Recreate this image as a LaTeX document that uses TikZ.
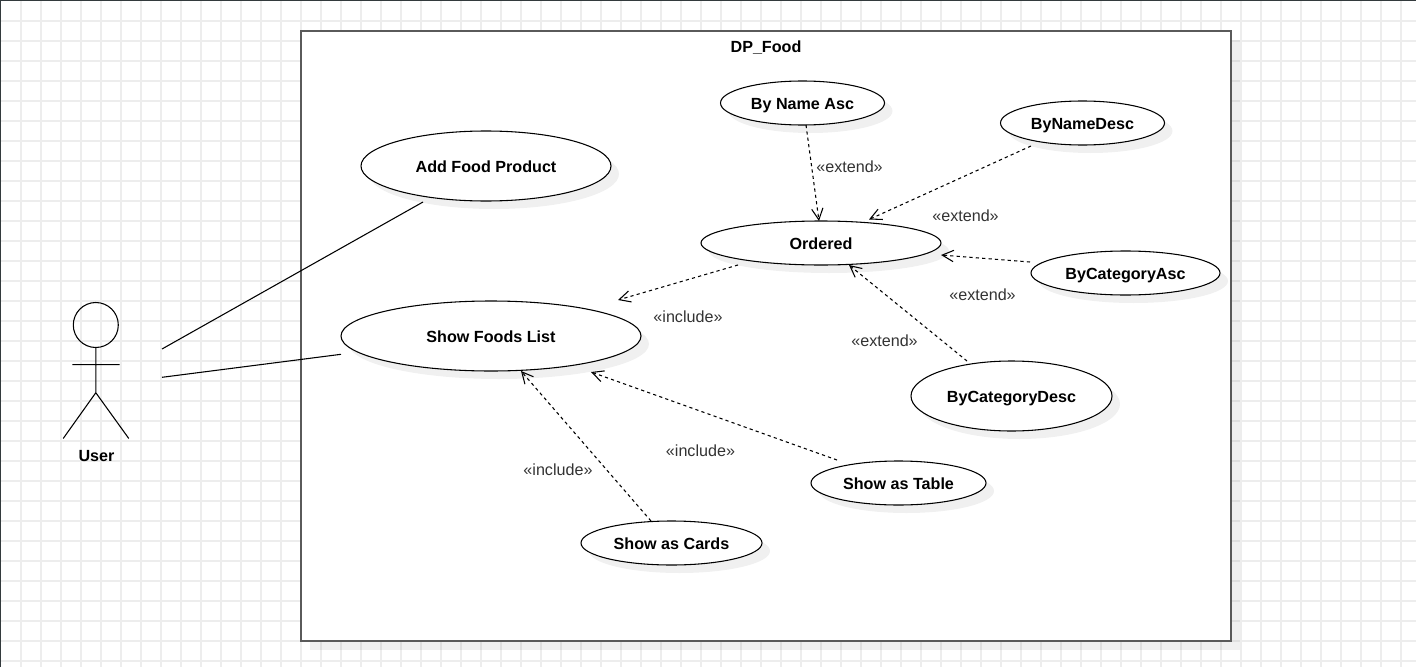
\documentclass[tikz,border=0pt]{standalone}
\usepackage{fontspec}
\setmainfont{Liberation Sans}
\usetikzlibrary{arrows.meta,shapes.geometric}
\definecolor{gridc}{HTML}{EDEDED}
\definecolor{framec}{HTML}{333A3D}
\definecolor{boxc}{HTML}{5A5A5A}
\definecolor{labc}{HTML}{333333}
\newcommand{\captext}[1]{\raisebox{-0.7pt}[8.6pt][0pt]{\bfseries #1}}
\newcommand{\uctext}[1]{\makebox[0pt][c]{\captext{#1}}}
\tikzset{
  x=0.75pt,y=-0.75pt,
  every node/.style={font=\fontsize{12.1pt}{14pt}\selectfont},
  usecase/.style={draw=black,fill=white,line width=0.8pt,ellipse,inner sep=0pt,outer sep=0pt},
  shade/.style={fill=black,fill opacity=0.06,draw=none},
  ext/.style={draw=black,line width=0.8pt,dash pattern=on 2.4pt off 2.4pt,-{Straight Barb[length=8.5pt,width=8.5pt,line width=0.8pt]}},
  assoc/.style={draw=black,line width=0.8pt},
  stereo/.style={text=labc,inner sep=0pt},
  actorline/.style={draw=black,line width=0.8pt},
}
\begin{document}
\begin{tikzpicture}
\useasboundingbox (0,0) rectangle (1416,667);
\fill[white] (0,0) rectangle (1416,667);
% grid
\foreach \gx in {21,41,...,1401} \draw[gridc,line width=1.15pt] (\gx,0) -- (\gx,667);
\foreach \gy in {21,41,...,661} \draw[gridc,line width=1.15pt] (0,\gy) -- (1416,\gy);
\draw[framec,line width=0.9pt] (0.5,667) -- (0.5,0.5) -- (1416,0.5);
% system
\fill[shade] (310,40) rectangle (1240,649.5);
\node[draw=boxc,fill=white,line width=1.5pt,inner sep=0pt,outer sep=0pt,minimum width=697.5pt,minimum height=457.5pt] (system) at (766,336) {};
\node[inner sep=0pt] (title) at (766,46) {\captext{DP\_Food}};
% shadows
\foreach \cx/\cy/\rx/\ry in {486/166/125/35,491/336/150/35,802.5/103/82/22,1082.5/123/82/22,821/243/120/22,1125.5/273/94.5/22,1011.5/396/100.5/35,898.5/483/87.5/22,671.5/543/90.5/22}
  \fill[shade] (\cx+8,\cy+8) ellipse [x radius=\rx,y radius=\ry];
% use cases
\node[usecase,minimum width=187.5pt,minimum height=52.5pt] (addfood) at (486,166) {\uctext{Add Food Product}};
\node[usecase,minimum width=225pt,minimum height=52.5pt] (foods) at (491,336) {\uctext{Show Foods List}};
\node[usecase,minimum width=123pt,minimum height=33pt] (nameasc) at (802.5,103) {\uctext{By Name Asc}};
\node[usecase,minimum width=123pt,minimum height=33pt] (namedesc) at (1082.5,123) {\uctext{ByNameDesc}};
\node[usecase,minimum width=180pt,minimum height=33pt] (ordered) at (821,243) {\uctext{Ordered}};
\node[usecase,minimum width=141.75pt,minimum height=33pt] (catasc) at (1125.5,273) {\uctext{ByCategoryAsc}};
\node[usecase,minimum width=150.75pt,minimum height=52.5pt] (catdesc) at (1011.5,396) {\uctext{ByCategoryDesc}};
\node[usecase,minimum width=131.25pt,minimum height=33pt] (table) at (898.5,483) {\uctext{Show as Table}};
\node[usecase,minimum width=135.75pt,minimum height=33pt] (cards) at (671.5,543) {\uctext{Show as Cards}};
% actor
\node[draw=black,circle,line width=0.8pt,inner sep=0pt,outer sep=0pt,minimum size=33.75pt] (head) at (95.8,325) {};
\coordinate (hip) at (95.8,392.7);
\coordinate (armL) at (72.3,364.7);
\coordinate (armR) at (119.7,364.7);
\coordinate (legL) at (63.2,438.5);
\coordinate (legR) at (128.8,438.5);
\draw[actorline] (head.south) -- (hip) (armL) -- (armR) (legL) -- (hip) -- (legR);
\node[inner sep=0pt] (user) at (96.5,455) {\captext{User}};
% free connector ends
\coordinate (u1) at (162,349);
\coordinate (u2) at (162,377.3);
\coordinate (a1) at (423,202);
\coordinate (a2) at (341,354.3);
\coordinate (s1) at (806,125);
\coordinate (e1) at (819,221);
\coordinate (s2) at (1031,146);
\coordinate (e2) at (869,219.5);
\coordinate (s3) at (1030,262);
\coordinate (e3) at (941,255);
\coordinate (s4) at (967,361);
\coordinate (e4) at (849,265);
\coordinate (s5) at (738,265);
\coordinate (e5) at (618,300);
\coordinate (s6) at (837,460);
\coordinate (e6) at (591,372);
\coordinate (s7) at (651,521);
\coordinate (e7) at (521,371);
% connectors
\draw[assoc] (u1) -- (a1);
\draw[assoc] (u2) -- (a2);
\draw[ext] (s1) -- (e1);
\draw[ext] (s2) -- (e2);
\draw[ext] (s3) -- (e3);
\draw[ext] (s4) -- (e4);
\draw[ext] (s5) -- (e5);
\draw[ext] (s6) -- (e6);
\draw[ext] (s7) -- (e7);
% stereotypes
\node[stereo] (l1) at (849.5,166.5) {«extend»};
\node[stereo] (l2) at (965.5,215.5) {«extend»};
\node[stereo] (l3) at (982.5,294.5) {«extend»};
\node[stereo] (l4) at (884.5,340.5) {«extend»};
\node[stereo] (l5) at (688,316.5) {«include»};
\node[stereo] (l6) at (700.5,450.5) {«include»};
\node[stereo] (l7) at (558,469.5) {«include»};
\end{tikzpicture}
\end{document}
